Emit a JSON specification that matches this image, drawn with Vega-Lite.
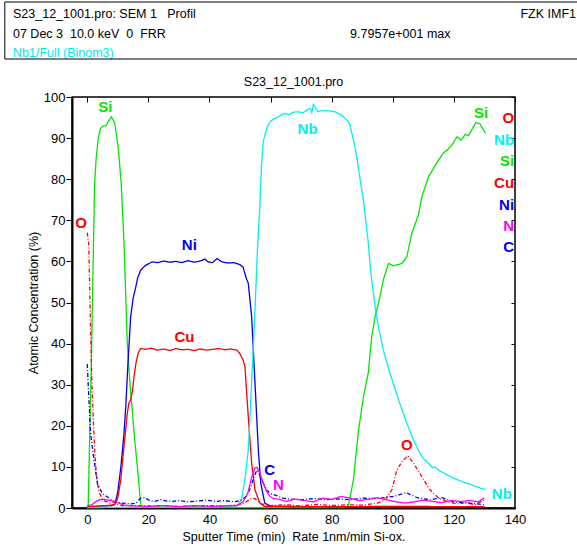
{
  "$schema": "https://vega.github.io/schema/vega-lite/v6.json",
  "padding": {"left": 3, "top": 1, "right": 0, "bottom": 0},
  "spacing": 14,
  "config": {
    "font": "Liberation Sans",
    "view": {"stroke": null},
    "axis": {"labelColor": "black", "titleColor": "black", "labelFontSize": 13, "titleFontSize": 12.5, "titleFontWeight": "normal", "grid": false, "tickColor": "black", "domainColor": "black", "labelFont": "Liberation Sans", "titleFont": "Liberation Sans"}
  },
  "datasets": {
    "series": [
      {"el":"Si","t":0,"v":0},{"el":"Si","t":0.3,"v":0.3},{"el":"Si","t":1.4,"v":38},{"el":"Si","t":2.4,"v":79},{"el":"Si","t":2.9,"v":85},{"el":"Si","t":3.6,"v":90},{"el":"Si","t":4.3,"v":92.3},{"el":"Si","t":5.1,"v":92.9},{"el":"Si","t":6.2,"v":93.1},{"el":"Si","t":7,"v":94.2},{"el":"Si","t":7.9,"v":95.2},{"el":"Si","t":9,"v":93.6},{"el":"Si","t":10.1,"v":88},{"el":"Si","t":11.1,"v":79},{"el":"Si","t":12,"v":65},{"el":"Si","t":13.1,"v":40},{"el":"Si","t":14,"v":30},{"el":"Si","t":14.8,"v":23},{"el":"Si","t":15.6,"v":16},{"el":"Si","t":16.4,"v":10},{"el":"Si","t":17.5,"v":0.7},{"el":"Si","t":18,"v":0.2},{"el":"Si","t":40,"v":0.1},{"el":"Si","t":84,"v":0.1},{"el":"Si","t":85.5,"v":0.5},{"el":"Si","t":87.1,"v":6.8},{"el":"Si","t":88.8,"v":19},{"el":"Si","t":90.4,"v":27},{"el":"Si","t":92,"v":33},{"el":"Si","t":93.1,"v":41.7},{"el":"Si","t":94.2,"v":46.5},{"el":"Si","t":95.8,"v":51.4},{"el":"Si","t":96.9,"v":55.5},{"el":"Si","t":98.6,"v":59.5},{"el":"Si","t":100.2,"v":58.9},{"el":"Si","t":103,"v":59.5},{"el":"Si","t":104.6,"v":61.1},{"el":"Si","t":106.2,"v":66.8},{"el":"Si","t":108.4,"v":71.3},{"el":"Si","t":109.5,"v":75.7},{"el":"Si","t":111.7,"v":80.6},{"el":"Si","t":113.3,"v":82.6},{"el":"Si","t":115,"v":84.7},{"el":"Si","t":116.6,"v":86.4},{"el":"Si","t":118,"v":87.2},{"el":"Si","t":119.3,"v":88.3},{"el":"Si","t":121,"v":90.3},{"el":"Si","t":122.4,"v":89.5},{"el":"Si","t":123.7,"v":90.9},{"el":"Si","t":124.8,"v":90.6},{"el":"Si","t":127.2,"v":93.8},{"el":"Si","t":128.6,"v":93.4},{"el":"Si","t":130.3,"v":91.2},
      {"el":"Ni","t":0,"v":0.3},{"el":"Ni","t":5,"v":0.5},{"el":"Ni","t":8,"v":0.6},{"el":"Ni","t":9.1,"v":1},{"el":"Ni","t":10,"v":4},{"el":"Ni","t":11,"v":10},{"el":"Ni","t":12,"v":18},{"el":"Ni","t":12.6,"v":24.6},{"el":"Ni","t":13.3,"v":35},{"el":"Ni","t":14.2,"v":46.5},{"el":"Ni","t":15,"v":51},{"el":"Ni","t":15.8,"v":53.5},{"el":"Ni","t":16.5,"v":56},{"el":"Ni","t":17.5,"v":57.9},{"el":"Ni","t":19,"v":59},{"el":"Ni","t":21.3,"v":59.9},{"el":"Ni","t":23,"v":59.7},{"el":"Ni","t":25,"v":60.1},{"el":"Ni","t":27,"v":59.8},{"el":"Ni","t":29,"v":60},{"el":"Ni","t":31,"v":59.7},{"el":"Ni","t":33,"v":60.2},{"el":"Ni","t":35,"v":59.8},{"el":"Ni","t":37,"v":60.1},{"el":"Ni","t":38.5,"v":60.6},{"el":"Ni","t":39.5,"v":59.9},{"el":"Ni","t":41,"v":59.7},{"el":"Ni","t":42.5,"v":60.7},{"el":"Ni","t":44,"v":59.9},{"el":"Ni","t":46,"v":59.6},{"el":"Ni","t":48,"v":59.7},{"el":"Ni","t":50,"v":59.2},{"el":"Ni","t":51,"v":58.6},{"el":"Ni","t":52,"v":56},{"el":"Ni","t":52.7,"v":54.7},{"el":"Ni","t":53.8,"v":46.5},{"el":"Ni","t":54.9,"v":30.4},{"el":"Ni","t":56,"v":14},{"el":"Ni","t":56.8,"v":6},{"el":"Ni","t":58.1,"v":1.2},{"el":"Ni","t":60,"v":0.4},{"el":"Ni","t":80,"v":0.3},{"el":"Ni","t":100,"v":0.4},{"el":"Ni","t":130,"v":0.3},
      {"el":"Cu","t":0,"v":0.3},{"el":"Cu","t":5,"v":0.5},{"el":"Cu","t":9,"v":0.8},{"el":"Cu","t":10,"v":2.5},{"el":"Cu","t":11,"v":7},{"el":"Cu","t":11.5,"v":11},{"el":"Cu","t":12.3,"v":17},{"el":"Cu","t":13.1,"v":23},{"el":"Cu","t":13.6,"v":25.5},{"el":"Cu","t":14.2,"v":26.3},{"el":"Cu","t":14.8,"v":28.5},{"el":"Cu","t":15.3,"v":32},{"el":"Cu","t":16,"v":35.5},{"el":"Cu","t":16.7,"v":37.8},{"el":"Cu","t":17.5,"v":38.8},{"el":"Cu","t":19,"v":38.6},{"el":"Cu","t":21,"v":38.9},{"el":"Cu","t":23,"v":38.4},{"el":"Cu","t":25,"v":38.7},{"el":"Cu","t":27,"v":38.3},{"el":"Cu","t":29,"v":38.8},{"el":"Cu","t":31,"v":38.5},{"el":"Cu","t":33,"v":38.6},{"el":"Cu","t":35,"v":38.3},{"el":"Cu","t":37,"v":38.7},{"el":"Cu","t":39,"v":38.4},{"el":"Cu","t":41,"v":38.6},{"el":"Cu","t":43,"v":38.8},{"el":"Cu","t":45,"v":38.5},{"el":"Cu","t":47,"v":38.7},{"el":"Cu","t":49,"v":38.4},{"el":"Cu","t":50,"v":37.5},{"el":"Cu","t":51,"v":36},{"el":"Cu","t":51.6,"v":34.4},{"el":"Cu","t":52.7,"v":22.2},{"el":"Cu","t":53.8,"v":10.9},{"el":"Cu","t":54.9,"v":4.4},{"el":"Cu","t":56.5,"v":1.2},{"el":"Cu","t":58,"v":0.4},{"el":"Cu","t":80,"v":0.3},{"el":"Cu","t":130,"v":0.3},
      {"el":"Nb","t":0,"v":0.1},{"el":"Nb","t":20,"v":0.2},{"el":"Nb","t":40,"v":0.3},{"el":"Nb","t":49,"v":0.5},{"el":"Nb","t":50.5,"v":2},{"el":"Nb","t":51.6,"v":7},{"el":"Nb","t":52.7,"v":14},{"el":"Nb","t":53.5,"v":26},{"el":"Nb","t":54.3,"v":38.4},{"el":"Nb","t":55,"v":50},{"el":"Nb","t":55.7,"v":62.8},{"el":"Nb","t":56.5,"v":73.7},{"el":"Nb","t":57,"v":83},{"el":"Nb","t":57.6,"v":89.1},{"el":"Nb","t":58.4,"v":91.5},{"el":"Nb","t":59.2,"v":93.2},{"el":"Nb","t":60.3,"v":94.3},{"el":"Nb","t":61.4,"v":94.8},{"el":"Nb","t":62.5,"v":95.2},{"el":"Nb","t":63.5,"v":95.7},{"el":"Nb","t":64.7,"v":96},{"el":"Nb","t":66,"v":95.7},{"el":"Nb","t":67.5,"v":96.3},{"el":"Nb","t":69.1,"v":96.4},{"el":"Nb","t":70.5,"v":96.1},{"el":"Nb","t":71.8,"v":96.8},{"el":"Nb","t":72.9,"v":97.2},{"el":"Nb","t":73.5,"v":96.2},{"el":"Nb","t":74,"v":98.2},{"el":"Nb","t":74.8,"v":97.3},{"el":"Nb","t":75.6,"v":96.4},{"el":"Nb","t":76.8,"v":96.7},{"el":"Nb","t":77.8,"v":96.6},{"el":"Nb","t":79.5,"v":96.6},{"el":"Nb","t":81.1,"v":96.4},{"el":"Nb","t":82.3,"v":95.9},{"el":"Nb","t":83.3,"v":95.6},{"el":"Nb","t":84.4,"v":94.8},{"el":"Nb","t":85.2,"v":94.2},{"el":"Nb","t":86,"v":93.2},{"el":"Nb","t":86.8,"v":90.5},{"el":"Nb","t":87.6,"v":88},{"el":"Nb","t":88.7,"v":83},{"el":"Nb","t":89.5,"v":79},{"el":"Nb","t":90.4,"v":74.9},{"el":"Nb","t":91.2,"v":69.5},{"el":"Nb","t":92,"v":64.4},{"el":"Nb","t":92.6,"v":59},{"el":"Nb","t":93.1,"v":55.5},{"el":"Nb","t":94.2,"v":49},{"el":"Nb","t":95.3,"v":44.1},{"el":"Nb","t":96.9,"v":38.4},{"el":"Nb","t":99.1,"v":32.8},{"el":"Nb","t":101.9,"v":26.3},{"el":"Nb","t":103.2,"v":23.5},{"el":"Nb","t":104.6,"v":20.6},{"el":"Nb","t":106.5,"v":17},{"el":"Nb","t":108.4,"v":14.1},{"el":"Nb","t":110,"v":12},{"el":"Nb","t":111.7,"v":10.9},{"el":"Nb","t":113,"v":9.8},{"el":"Nb","t":113.9,"v":10},{"el":"Nb","t":115,"v":9.2},{"el":"Nb","t":116,"v":8.8},{"el":"Nb","t":118,"v":8},{"el":"Nb","t":120,"v":7.2},{"el":"Nb","t":121.5,"v":6.8},{"el":"Nb","t":123.5,"v":6.2},{"el":"Nb","t":125.9,"v":5.6},{"el":"Nb","t":128,"v":5},{"el":"Nb","t":130.3,"v":4.5},
      {"el":"O","t":0,"v":67},{"el":"O","t":0.5,"v":64},{"el":"O","t":1,"v":46},{"el":"O","t":1.5,"v":31},{"el":"O","t":2,"v":21},{"el":"O","t":2.5,"v":13},{"el":"O","t":3,"v":8},{"el":"O","t":3.8,"v":4},{"el":"O","t":5,"v":2},{"el":"O","t":6,"v":1.6},{"el":"O","t":7.5,"v":1.2},{"el":"O","t":9,"v":1.5},{"el":"O","t":10,"v":0.8},{"el":"O","t":12,"v":0.5},{"el":"O","t":15,"v":0.6},{"el":"O","t":20,"v":0.5},{"el":"O","t":25,"v":0.6},{"el":"O","t":30,"v":0.4},{"el":"O","t":35,"v":0.5},{"el":"O","t":40,"v":0.6},{"el":"O","t":45,"v":0.5},{"el":"O","t":50,"v":0.8},{"el":"O","t":52,"v":1.5},{"el":"O","t":53.8,"v":2.4},{"el":"O","t":55,"v":2.2},{"el":"O","t":57,"v":1},{"el":"O","t":60,"v":0.6},{"el":"O","t":65,"v":0.8},{"el":"O","t":70,"v":0.5},{"el":"O","t":75,"v":0.9},{"el":"O","t":80,"v":0.6},{"el":"O","t":85,"v":0.8},{"el":"O","t":90,"v":0.7},{"el":"O","t":95,"v":1.2},{"el":"O","t":97.5,"v":2},{"el":"O","t":99.7,"v":4.4},{"el":"O","t":101.3,"v":9.2},{"el":"O","t":103,"v":11.3},{"el":"O","t":104.9,"v":12.7},{"el":"O","t":106.8,"v":10.9},{"el":"O","t":109.5,"v":7.6},{"el":"O","t":112.2,"v":4.4},{"el":"O","t":115,"v":2.4},{"el":"O","t":118,"v":1.5},{"el":"O","t":121,"v":1},{"el":"O","t":124,"v":1.3},{"el":"O","t":127,"v":0.8},{"el":"O","t":130,"v":2},
      {"el":"C","t":0,"v":35},{"el":"C","t":0.3,"v":30},{"el":"C","t":1.1,"v":18},{"el":"C","t":2.2,"v":11.7},{"el":"C","t":3.3,"v":6},{"el":"C","t":4.9,"v":3.6},{"el":"C","t":7.1,"v":2.4},{"el":"C","t":8.7,"v":1.6},{"el":"C","t":11,"v":1.2},{"el":"C","t":14.3,"v":1},{"el":"C","t":16,"v":1.2},{"el":"C","t":17.5,"v":2.4},{"el":"C","t":18.8,"v":2.5},{"el":"C","t":20.5,"v":1.8},{"el":"C","t":22,"v":1.6},{"el":"C","t":24,"v":2},{"el":"C","t":26,"v":1.7},{"el":"C","t":28,"v":1.6},{"el":"C","t":30,"v":1.8},{"el":"C","t":33,"v":1.5},{"el":"C","t":36,"v":1.7},{"el":"C","t":39,"v":1.9},{"el":"C","t":42,"v":1.6},{"el":"C","t":45,"v":1.8},{"el":"C","t":48,"v":1.5},{"el":"C","t":50,"v":1.8},{"el":"C","t":52,"v":2.8},{"el":"C","t":53.5,"v":5},{"el":"C","t":54.5,"v":7.5},{"el":"C","t":55.5,"v":9.2},{"el":"C","t":56,"v":8.8},{"el":"C","t":57,"v":7},{"el":"C","t":58.7,"v":4.4},{"el":"C","t":60,"v":3.5},{"el":"C","t":62,"v":3},{"el":"C","t":64,"v":2.4},{"el":"C","t":66,"v":2.2},{"el":"C","t":70,"v":2},{"el":"C","t":74,"v":2.3},{"el":"C","t":78,"v":2},{"el":"C","t":82,"v":2.2},{"el":"C","t":86,"v":2},{"el":"C","t":90,"v":2.4},{"el":"C","t":95,"v":2.3},{"el":"C","t":100,"v":2.8},{"el":"C","t":102,"v":3.2},{"el":"C","t":104.5,"v":3.7},{"el":"C","t":106,"v":3.2},{"el":"C","t":108,"v":2.5},{"el":"C","t":112,"v":2},{"el":"C","t":116,"v":2.5},{"el":"C","t":120,"v":1.5},{"el":"C","t":125,"v":1.2},{"el":"C","t":130,"v":0.8},
      {"el":"N","t":0,"v":0.5},{"el":"N","t":1.5,"v":0.8},{"el":"N","t":2.7,"v":1.5},{"el":"N","t":4,"v":2},{"el":"N","t":5.5,"v":2.1},{"el":"N","t":7,"v":1.9},{"el":"N","t":8.5,"v":1.6},{"el":"N","t":10.4,"v":1.2},{"el":"N","t":12,"v":0.7},{"el":"N","t":15,"v":0.5},{"el":"N","t":20,"v":0.4},{"el":"N","t":25,"v":0.6},{"el":"N","t":30,"v":0.3},{"el":"N","t":35,"v":0.6},{"el":"N","t":40,"v":0.4},{"el":"N","t":45,"v":0.5},{"el":"N","t":49,"v":0.6},{"el":"N","t":51,"v":1.5},{"el":"N","t":52.5,"v":3.5},{"el":"N","t":53.8,"v":7.5},{"el":"N","t":54.9,"v":9.7},{"el":"N","t":55.6,"v":9.9},{"el":"N","t":56.5,"v":8.5},{"el":"N","t":57.6,"v":6},{"el":"N","t":58.7,"v":4},{"el":"N","t":59.8,"v":2.8},{"el":"N","t":61,"v":2.3},{"el":"N","t":63,"v":2.1},{"el":"N","t":65,"v":1.6},{"el":"N","t":68,"v":2.2},{"el":"N","t":71,"v":1.8},{"el":"N","t":74,"v":1.5},{"el":"N","t":77,"v":2.4},{"el":"N","t":80,"v":2.1},{"el":"N","t":83,"v":2.8},{"el":"N","t":86,"v":2.4},{"el":"N","t":89,"v":1.8},{"el":"N","t":92,"v":2.1},{"el":"N","t":95,"v":2.5},{"el":"N","t":98,"v":2},{"el":"N","t":101,"v":1.5},{"el":"N","t":104,"v":1.2},{"el":"N","t":107,"v":1.5},{"el":"N","t":110,"v":1.9},{"el":"N","t":113,"v":1.6},{"el":"N","t":116,"v":1.3},{"el":"N","t":119,"v":1.8},{"el":"N","t":122,"v":1.6},{"el":"N","t":125,"v":1.8},{"el":"N","t":128,"v":1.5},{"el":"N","t":130,"v":2.5}
    ],
    "inline": [
      {"el":"Si","label":"Si","t":5.9,"v":97.6},
      {"el":"Si","label":"Si","t":128.9,"v":96.1},
      {"el":"Ni","label":"Ni","t":33.4,"v":64},
      {"el":"Cu","label":"Cu","t":31.8,"v":41.6},
      {"el":"O","label":"O","t":-2,"v":69.3},
      {"el":"O","label":"O","t":104.6,"v":15.3},
      {"el":"C","label":"C","t":59.7,"v":9.2},
      {"el":"N","label":"N","t":62.6,"v":5.6},
      {"el":"Nb","label":"Nb","t":72.1,"v":92.2},
      {"el":"Nb","label":"Nb","t":135.7,"v":3.4}
    ],
    "legend": [
      {"el":"O","label":"O","t":139.7,"v":94.9},
      {"el":"Nb","label":"Nb","t":139.7,"v":89.5},
      {"el":"Si","label":"Si","t":139.7,"v":84.4},
      {"el":"Cu","label":"Cu","t":139.7,"v":79.1},
      {"el":"Ni","label":"Ni","t":139.7,"v":73.7},
      {"el":"N","label":"N","t":139.7,"v":68.5},
      {"el":"C","label":"C","t":139.7,"v":63.5}
    ]
  },
  "vconcat": [
    {
      "width": 506,
      "height": 57,
      "layer": [
        {
          "data": {"values": [
            {"x": 0.0157, "y": 0.79, "text": "S23_12_1001.pro: SEM 1\u00a0\u00a0\u00a0Profil"},
            {"x": 0.0157, "y": 0.44, "text": "07 Dec 3\u00a0\u00a010.0 keV\u00a0\u00a00\u00a0\u00a0FRR"},
            {"x": 0.603, "y": 0.44, "text": "9.7957e+001 max"}
          ]},
          "mark": {"type": "text", "align": "left", "baseline": "middle", "fontSize": 12.5, "color": "black"},
          "encoding": {
            "x": {"field": "x", "type": "quantitative", "scale": {"domain": [0.1185, 1], "nice": false, "zero": false}, "axis": null},
            "y": {"field": "y", "type": "quantitative", "scale": {"domain": [0, 1], "nice": false, "zero": false}, "axis": null},
            "text": {"field": "text"}
          }
        },
        {
          "data": {"values": [{"x": 0.9965, "y": 0.79, "text": "FZK IMF1"}]},
          "mark": {"type": "text", "align": "right", "baseline": "middle", "fontSize": 12.5, "color": "black"},
          "encoding": {
            "x": {"field": "x", "type": "quantitative", "axis": null},
            "y": {"field": "y", "type": "quantitative", "axis": null},
            "text": {"field": "text"}
          }
        },
        {
          "data": {"values": [{"x": 0.0157, "y": 0.105, "text": "Nb1/Full (Binom3)"}]},
          "mark": {"type": "text", "align": "left", "baseline": "middle", "fontSize": 12.5, "color": "#00e8f0"},
          "encoding": {
            "x": {"field": "x", "type": "quantitative", "axis": null},
            "y": {"field": "y", "type": "quantitative", "axis": null},
            "text": {"field": "text"}
          }
        },
        {
          "data": {"values": [{"edge": "top"}]},
          "mark": {"type": "rule", "color": "black", "strokeWidth": 1},
          "encoding": {"x": {"datum": 0.0015, "type": "quantitative", "axis": null}, "x2": {"datum": 1.1}, "y": {"datum": 1, "type": "quantitative", "axis": null}}
        },
        {
          "data": {"values": [{"edge": "bottom"}]},
          "mark": {"type": "rule", "color": "black", "strokeWidth": 1},
          "encoding": {"x": {"datum": 0.0015, "type": "quantitative", "axis": null}, "x2": {"datum": 1.1}, "y": {"datum": 0, "type": "quantitative", "axis": null}}
        },
        {
          "data": {"values": [{"edge": "left"}]},
          "mark": {"type": "rule", "color": "black", "strokeWidth": 1},
          "encoding": {"x": {"datum": 0.0015, "type": "quantitative", "axis": null}, "y": {"datum": 0, "type": "quantitative", "axis": null}, "y2": {"datum": 1}}
        }
      ]
    },
    {
      "width": 443,
      "height": 411,
      "view": {"stroke": "black", "strokeWidth": 1.5},
      "title": {"text": "S23_12_1001.pro", "fontSize": 12.5, "fontWeight": "normal", "color": "black", "offset": 3, "frame": "group", "anchor": "middle"},
      "resolve": {"axis": {"x": "independent", "y": "independent"}},
      "layer": [
        {
          "data": {"name": "series"},
          "mark": {"type": "line", "strokeWidth": 1.3},
          "encoding": {
            "x": {"field": "t", "type": "quantitative", "scale": {"domain": [-5, 140], "nice": false, "zero": false},
                  "axis": {"orient": "bottom", "values": [0, 20, 40, 60, 80, 100, 120, 140], "ticks": false, "labelPadding": 5, "domainWidth": 2, "title": "Sputter Time (min)\u00a0\u00a0Rate 1nm/min Si-ox.", "titleFontSize": 12.5, "titlePadding": 4, "labelFlush": false}},
            "y": {"field": "v", "type": "quantitative", "scale": {"domain": [0, 100], "nice": false, "zero": false},
                  "axis": {"orient": "left", "values": [0, 10, 20, 30, 40, 50, 60, 70, 80, 90, 100], "tickSize": 6, "labelPadding": 1, "domainWidth": 2, "minExtent": 68, "title": "Atomic Concentration (%)", "titleX": -32, "titleBaseline": "bottom", "labelFlush": false}},
            "color": {"field": "el", "type": "nominal", "legend": null,
                      "scale": {"domain": ["O", "Nb", "Si", "Cu", "Ni", "N", "C"], "range": ["#ff0000", "#00f0f0", "#00e600", "#ff0000", "#0000ee", "#ff00ff", "#0000ee"]}},
            "strokeDash": {"field": "el", "type": "nominal", "legend": null,
                      "scale": {"domain": ["O", "Nb", "Si", "Cu", "Ni", "N", "C"], "range": [[4, 2, 1, 2], [1, 0], [1, 0], [1, 0], [1, 0], [1, 0], [4, 2, 1, 2]]}}
          }
        },
        {
          "data": {"name": "inline"},
          "mark": {"type": "text", "fontWeight": "bold", "fontSize": 15, "align": "center", "baseline": "middle"},
          "encoding": {
            "x": {"field": "t", "type": "quantitative", "axis": null},
            "y": {"field": "v", "type": "quantitative", "axis": null},
            "text": {"field": "label"},
            "color": {"field": "el", "type": "nominal", "legend": null}
          }
        },
        {
          "data": {"name": "legend"},
          "mark": {"type": "text", "fontWeight": "bold", "fontSize": 15, "align": "right", "baseline": "middle"},
          "encoding": {
            "x": {"field": "t", "type": "quantitative",
                  "axis": {"orient": "top", "values": [0, 20, 40, 60, 80, 100, 120, 140], "labels": false, "domain": false, "tickSize": -5, "title": null}},
            "y": {"field": "v", "type": "quantitative",
                  "axis": {"orient": "right", "values": [0, 10, 20, 30, 40, 50, 60, 70, 80, 90, 100], "labels": false, "domain": false, "tickSize": -4, "title": null}},
            "text": {"field": "label"},
            "color": {"field": "el", "type": "nominal", "legend": null}
          }
        }
      ]
    }
  ]
}
